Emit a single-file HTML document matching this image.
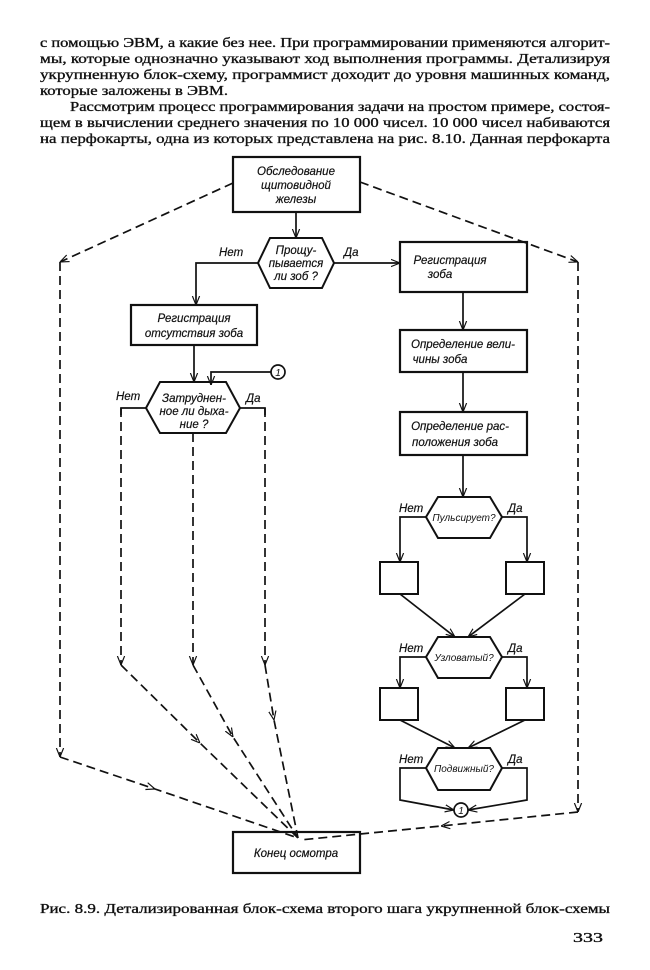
<!DOCTYPE html>
<html><head><meta charset="utf-8"><style>
html,body{margin:0;padding:0;background:#fff}
svg{display:block}
.t{font-family:"Liberation Serif","DejaVu Serif",serif;font-size:14px;fill:#111;stroke:#111;stroke-width:0.35}
.d{font-family:"Liberation Sans","DejaVu Sans",sans-serif;font-style:italic;font-size:11.5px;fill:#111;stroke:#111;stroke-width:0.2}
.s{font-family:"Liberation Sans","DejaVu Sans",sans-serif;font-style:italic;font-size:10px;fill:#111}
</style></head><body>
<svg width="650" height="970" viewBox="0 0 650 970" xmlns="http://www.w3.org/2000/svg">
<defs>
<marker id="a" viewBox="0 0 10 10" refX="10" refY="5" markerWidth="9" markerHeight="9" orient="auto" markerUnits="userSpaceOnUse"><path d="M0,1 L10,5 L0,9" fill="none" stroke="#111" stroke-width="1.3"/></marker>
</defs>
<g class="t">
<text x="40" y="47" textLength="570" lengthAdjust="spacingAndGlyphs">с помощью ЭВМ, а какие без нее. При программировании применяются алгорит-</text>
<text x="40" y="63" textLength="570" lengthAdjust="spacingAndGlyphs">мы, которые однозначно указывают ход выполнения программы. Детализируя</text>
<text x="40" y="79" textLength="570" lengthAdjust="spacingAndGlyphs">укрупненную блок-схему, программист доходит до уровня машинных команд,</text>
<text x="40" y="95" textLength="188" lengthAdjust="spacingAndGlyphs">которые заложены в ЭВМ.</text>
<text x="70" y="111" textLength="540" lengthAdjust="spacingAndGlyphs">Рассмотрим процесс программирования задачи на простом примере, состоя-</text>
<text x="40" y="127" textLength="570" lengthAdjust="spacingAndGlyphs">щем в вычислении среднего значения по 10 000 чисел. 10 000 чисел набиваются</text>
<text x="40" y="143" textLength="570" lengthAdjust="spacingAndGlyphs">на перфокарты, одна из которых представлена на рис. 8.10. Данная перфокарта</text>
<text x="40" y="913" textLength="570" lengthAdjust="spacingAndGlyphs">Рис. 8.9. Детализированная блок-схема второго шага укрупненной блок-схемы</text>
<text x="573" y="942" textLength="30" lengthAdjust="spacingAndGlyphs">333</text>
</g>
<g fill="none" stroke="#111" stroke-width="1.7">
<rect x="233" y="157" width="127" height="55" stroke-width="2.2"/>
<rect x="131" y="305" width="126" height="40" stroke-width="2.2"/>
<rect x="400" y="242" width="127" height="50" stroke-width="2.2"/>
<rect x="400" y="330" width="127" height="42" stroke-width="2.2"/>
<rect x="400" y="412" width="127" height="43" stroke-width="2.2"/>
<rect x="380" y="562" width="38" height="32" stroke-width="2"/>
<rect x="506" y="562" width="38" height="32" stroke-width="2"/>
<rect x="380" y="688" width="38" height="32" stroke-width="2"/>
<rect x="506" y="688" width="38" height="32" stroke-width="2"/>
<rect x="233" y="832" width="127" height="41" stroke-width="2.2"/>
<polygon points="270,238 322,238 334,263 322,288 270,288 258,263" stroke-width="2"/>
<polygon points="160,382 226,382 240,408 226,433 160,433 146,408" stroke-width="2"/>
<polygon points="438,497 490,497 502,517 490,538 438,538 426,517" stroke-width="2"/>
<polygon points="438,637 490,637 502,657 490,678 438,678 426,657" stroke-width="2"/>
<polygon points="438,748 490,748 502,768 490,790 438,790 426,768" stroke-width="2"/>
<circle cx="278" cy="372" r="7"/>
<circle cx="461" cy="810" r="7"/>
<line x1="296" y1="212" x2="296" y2="238" marker-end="url(#a)"/>
<polyline points="258,263 196,263 196,305" marker-end="url(#a)"/>
<line x1="334" y1="263" x2="400" y2="263" marker-end="url(#a)"/>
<line x1="194" y1="345" x2="194" y2="382" marker-end="url(#a)"/>
<polyline points="271,372 211,372 211,385" marker-end="url(#a)"/>
<line x1="463" y1="292" x2="463" y2="330" marker-end="url(#a)"/>
<line x1="463" y1="372" x2="463" y2="412" marker-end="url(#a)"/>
<line x1="463" y1="455" x2="463" y2="497" marker-end="url(#a)"/>
<polyline points="426,517 400,517 400,562" marker-end="url(#a)"/>
<polyline points="502,517 527,517 527,562" marker-end="url(#a)"/>
<line x1="400" y1="594" x2="455" y2="637" marker-end="url(#a)"/>
<line x1="525" y1="594" x2="468" y2="637" marker-end="url(#a)"/>
<polyline points="426,657 400,657 400,688" marker-end="url(#a)"/>
<polyline points="502,657 527,657 527,688" marker-end="url(#a)"/>
<line x1="400" y1="720" x2="455" y2="748" marker-end="url(#a)"/>
<line x1="525" y1="720" x2="468" y2="748" marker-end="url(#a)"/>
<polyline points="426,768 400,768 400,800 454,810" marker-end="url(#a)"/>
<polyline points="502,768 527,768 527,800 468,810" marker-end="url(#a)"/>
<polyline points="146,408 121,408 121,415"/>
<polyline points="240,408 265,408 265,415"/>
</g>
<g fill="none" stroke="#111" stroke-width="1.7" stroke-dasharray="9,5">
<line x1="233" y1="183" x2="60" y2="262" marker-end="url(#a)"/>
<line x1="60" y1="262" x2="60" y2="757" marker-end="url(#a)"/>
<polyline points="60,757 155,789 298,838" marker-mid="url(#a)"/>
<line x1="360" y1="182" x2="578" y2="262" marker-end="url(#a)"/>
<line x1="578" y1="262" x2="578" y2="812" marker-end="url(#a)"/>
<polyline points="578,812 441,826 300,840" marker-mid="url(#a)"/>
<line x1="121" y1="408" x2="121" y2="665" marker-end="url(#a)"/>
<line x1="193" y1="433" x2="193" y2="665" marker-end="url(#a)"/>
<line x1="265" y1="408" x2="265" y2="665" marker-end="url(#a)"/>
<polyline points="121,665 200,743 298,838" marker-mid="url(#a)"/>
<polyline points="193,665 233,737 298,838" marker-mid="url(#a)"/>
<polyline points="265,665 274,720 298,838" marker-mid="url(#a)"/>
</g>
<g class="d">
<text x="296" y="175" text-anchor="middle">Обследование</text>
<text x="296" y="189" text-anchor="middle">щитовидной</text>
<text x="296" y="203" text-anchor="middle">железы</text>
<text x="296" y="254" text-anchor="middle">Прощу-</text>
<text x="296" y="267" text-anchor="middle">пывается</text>
<text x="296" y="280" text-anchor="middle">ли зоб ?</text>
<text x="219" y="256">Нет</text>
<text x="344" y="256">Да</text>
<text x="194" y="322" text-anchor="middle">Регистрация</text>
<text x="194" y="337" text-anchor="middle">отсутствия зоба</text>
<text x="450" y="264" text-anchor="middle">Регистрация</text>
<text x="440" y="278" text-anchor="middle">зоба</text>
<text x="463" y="348" text-anchor="middle">Определение вели-</text>
<text x="440" y="363" text-anchor="middle">чины зоба</text>
<text x="460" y="430" text-anchor="middle">Определение рас-</text>
<text x="455" y="446" text-anchor="middle">положения зоба</text>
<text x="194" y="402" text-anchor="middle">Затрудне­н-</text>
<text x="194" y="415" text-anchor="middle">ное ли дыха-</text>
<text x="194" y="428" text-anchor="middle">ние ?</text>
<text x="116" y="400">Нет</text>
<text x="246" y="402">Да</text>
<text x="399" y="512">Нет</text>
<text x="508" y="512">Да</text>
<text x="399" y="652">Нет</text>
<text x="508" y="652">Да</text>
<text x="399" y="763">Нет</text>
<text x="508" y="763">Да</text>
<text x="296" y="857" text-anchor="middle">Конец осмотра</text>
</g>
<g class="s">
<text x="464" y="521" text-anchor="middle">Пульсирует?</text>
<text x="464" y="661" text-anchor="middle">Узловатый?</text>
<text x="464" y="772" text-anchor="middle">Подвижный?</text>
<text x="278" y="376" text-anchor="middle">1</text>
<text x="461" y="814" text-anchor="middle">1</text>
</g>
</svg>
</body></html>
